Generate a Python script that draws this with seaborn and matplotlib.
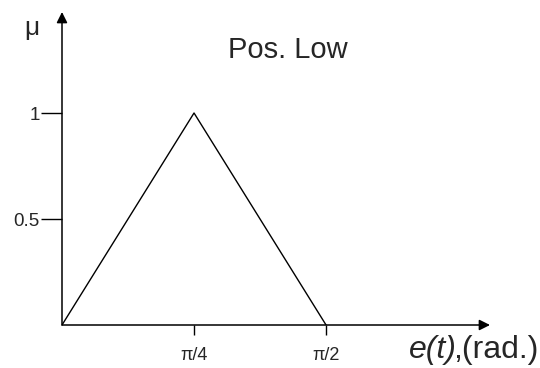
import numpy as np
import matplotlib
matplotlib.use("Agg")
import matplotlib.pyplot as plt
import seaborn as sns
import pandas as pd

# data
x_points = [0.0, np.pi / 4, np.pi / 2]
mu_values = [0.0, 1.0, 0.0]
x_ticks = [np.pi / 4, np.pi / 2]
x_tick_labels = ["π/4", "π/2"]
y_ticks = [0.5, 1.0]
y_tick_labels = ["0.5", "1"]
title_text = "Pos. Low"
xlabel_italic = "e(t)"
xlabel_rest = ",(rad.)"

sns.set_theme(style="white")
plt.rcParams["font.family"] = ["Liberation Sans", "DejaVu Sans"]

W, H = 540, 368
fig = plt.figure(figsize=(W / 100, H / 100), dpi=100)
fig.patch.set_facecolor("white")

x0, y0 = 62, 325          # origin in pixels
x1, ytop = 490, 12        # arrow tips
ax = fig.add_axes([x0 / W, (H - y0) / H, (x1 - x0) / W, (y0 - ytop) / H])
ax.set_facecolor("white")

df = pd.DataFrame({"x": x_points, "mu": mu_values})
sns.lineplot(data=df, x="x", y="mu", ax=ax, color="black", linewidth=1.0, sort=False)

ax.set_xlim(0, (x1 - x0) / 168.1)
ax.set_ylim(0, (y0 - ytop) / 212.0)

for s in ax.spines.values():
    s.set_visible(False)

ax.set_xticks(x_ticks)
ax.set_xticklabels(x_tick_labels, fontsize=13)
ax.set_yticks(y_ticks)
ax.set_yticklabels(y_tick_labels, fontsize=13.5)
ax.tick_params(axis="x", direction="out", length=7, width=1.0, color="black", pad=9, bottom=True)
ax.tick_params(axis="y", direction="out", length=15, width=1.0, color="black", pad=1, left=True)
ax.set_xlabel("")
ax.set_ylabel("")
ax.grid(False)

arrow = dict(arrowstyle="-|>", color="black", lw=1.1, mutation_scale=16, shrinkA=0, shrinkB=0)
ax.annotate("", xy=(1, 0), xytext=(0, 0), xycoords="axes fraction", textcoords="axes fraction",
            arrowprops=arrow, annotation_clip=False)
ax.annotate("", xy=(0, 1), xytext=(0, 0), xycoords="axes fraction", textcoords="axes fraction",
            arrowprops=arrow, annotation_clip=False)

fig.text(32 / W, 1 - 28 / H, "μ", fontsize=19, ha="center", va="center")
fig.text(288 / W, 1 - 50 / H, title_text, fontsize=21, ha="center", va="center")

t1 = fig.text(409 / W, 1 - 358 / H, xlabel_italic, fontsize=23, style="italic",
              ha="left", va="baseline")
renderer = fig.canvas.get_renderer()
bb = t1.get_window_extent(renderer=renderer)
fig.text((bb.x1 - 4) / W, 1 - 358 / H, xlabel_rest, fontsize=23, ha="left", va="baseline")

fig.savefig("out.png", dpi=100, facecolor="white")
